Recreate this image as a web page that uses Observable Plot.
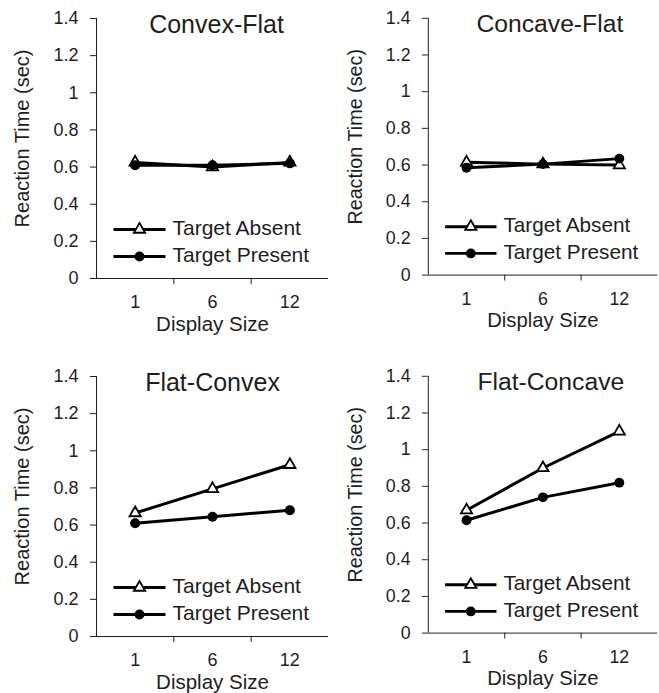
<!DOCTYPE html>
<html>
<head>
<meta charset="utf-8">
<script src="https://cdn.jsdelivr.net/npm/d3@7"></script>
<script src="https://cdn.jsdelivr.net/npm/@observablehq/plot@0.6"></script>
<style>
  html, body { margin: 0; padding: 0; background: #fff; }
  #chart { position: relative; width: 659px; height: 693px; overflow: hidden; background: #fff; }
  .panel { position: absolute; }
</style>
</head>
<body>
<div id="chart"></div>
<script>
// ---- data ----
const displaySizes = ["1", "6", "12"];
const seriesLabels = ["Target Absent", "Target Present"];
const panelTitles = ["Convex-Flat", "Concave-Flat", "Flat-Convex", "Flat-Concave"];

const convexFlatAbsent   = [0.625, 0.600, 0.625];
const convexFlatPresent  = [0.610, 0.610, 0.620];
const concaveFlatAbsent  = [0.615, 0.605, 0.600];
const concaveFlatPresent = [0.585, 0.605, 0.635];
const flatConvexAbsent   = [0.665, 0.795, 0.925];
const flatConvexPresent  = [0.610, 0.645, 0.680];
const flatConcaveAbsent  = [0.670, 0.900, 1.100];
const flatConcavePresent = [0.615, 0.740, 0.820];

const yTicks = [0, 0.2, 0.4, 0.6, 0.8, 1, 1.2, 1.4];
const yLabel = "Reaction Time (sec)";
const xLabel = "Display Size";

// ---- layout ----
const panels = [
  {title: panelTitles[0], absent: convexFlatAbsent,  present: convexFlatPresent,  left: 0,   top: 0,   height: 340, titleDx: 4},
  {title: panelTitles[1], absent: concaveFlatAbsent, present: concaveFlatPresent, left: 333, top: 0,   height: 340, titleDx: 7},
  {title: panelTitles[2], absent: flatConvexAbsent,  present: flatConvexPresent,  left: 0,   top: 358, height: 335, titleDx: 0},
  {title: panelTitles[3], absent: flatConcaveAbsent, present: flatConcavePresent, left: 333, top: 358, height: 335, titleDx: 8}
];

const font = "'Liberation Sans', Arial, Helvetica, sans-serif";
const ink = "#1e1e1e";
const legendLine = {draw(ctx) { ctx.moveTo(-26, 0); ctx.lineTo(26, 0); }};

function makePanel(p) {
  const absentRows = displaySizes.map((s, i) => ({series: seriesLabels[0], size: s, pos: i + 1, rt: p.absent[i]}));
  const presentRows = displaySizes.map((s, i) => ({series: seriesLabels[1], size: s, pos: i + 1, rt: p.present[i]}));
  return Plot.plot({
    width: 330,
    height: p.height,
    marginLeft: 96,
    marginRight: 2,
    marginTop: 18,
    marginBottom: p.height - 18 - 260,
    style: {fontFamily: font, fontSize: "18px", color: ink, background: "transparent", overflow: "visible"},
    x: {type: "linear", domain: [0.5, 3.5]},
    y: {domain: [0, 1.4]},
    marks: [
      Plot.axisY({ticks: yTicks, tickSize: 6, tickPadding: 12, tickFormat: d => String(+d.toFixed(1)), label: null, fontSize: 18}),
      Plot.axisX({ticks: [1.5, 2.5], tickSize: 6, tickFormat: () => "", label: null}),
      Plot.axisX({ticks: [1, 2, 3], tickSize: 0, tickPadding: 17, tickFormat: i => displaySizes[Math.round(i) - 1], label: null, fontSize: 18}),
      Plot.ruleX([0.5], {stroke: ink}),
      Plot.ruleY([0], {stroke: ink}),
      Plot.line(absentRows, {x: "pos", y: "rt", stroke: "black", strokeWidth: 3}),
      Plot.dot(absentRows, {x: "pos", y: "rt", symbol: "triangle", r: 4.2, fill: "white", stroke: "black", strokeWidth: 1.8}),
      Plot.line(presentRows, {x: "pos", y: "rt", stroke: "black", strokeWidth: 3}),
      Plot.dot(presentRows, {x: "pos", y: "rt", symbol: "circle", r: 5, fill: "black", stroke: "none"}),
      // title
      Plot.text([p.title], {frameAnchor: "top", dx: p.titleDx, dy: 6, lineAnchor: "middle", fontSize: 25, fill: ink}),
      // axis titles
      Plot.text([yLabel], {frameAnchor: "left", rotate: -90, dx: -74, dy: -10, textAnchor: "middle", lineAnchor: "middle", fontSize: 20, fill: ink}),
      Plot.text([xLabel], {frameAnchor: "bottom", dy: 46, textAnchor: "middle", lineAnchor: "middle", fontSize: 20.5, fill: ink}),
      // legend
      Plot.dot([seriesLabels[0]], {frameAnchor: "bottom-left", dx: 43, dy: -49, symbol: legendLine, stroke: "black", strokeWidth: 3, fill: "none"}),
      Plot.dot([seriesLabels[0]], {frameAnchor: "bottom-left", dx: 43, dy: -49, symbol: "triangle", r: 4.2, fill: "white", stroke: "black", strokeWidth: 1.8}),
      Plot.text([seriesLabels[0]], {frameAnchor: "bottom-left", dx: 76, dy: -50, textAnchor: "start", lineAnchor: "middle", fontSize: 21, fill: ink}),
      Plot.dot([seriesLabels[1]], {frameAnchor: "bottom-left", dx: 43, dy: -22, symbol: legendLine, stroke: "black", strokeWidth: 3, fill: "none"}),
      Plot.dot([seriesLabels[1]], {frameAnchor: "bottom-left", dx: 43, dy: -22, symbol: "circle", r: 5, fill: "black", stroke: "none"}),
      Plot.text([seriesLabels[1]], {frameAnchor: "bottom-left", dx: 76, dy: -23, textAnchor: "start", lineAnchor: "middle", fontSize: 21, fill: ink})
    ]
  });
}

const chart = document.getElementById("chart");
for (const p of panels) {
  const div = document.createElement("div");
  div.className = "panel";
  div.style.left = p.left + "px";
  div.style.top = p.top + "px";
  div.appendChild(makePanel(p));
  chart.appendChild(div);
}
</script>
</body>
</html>
